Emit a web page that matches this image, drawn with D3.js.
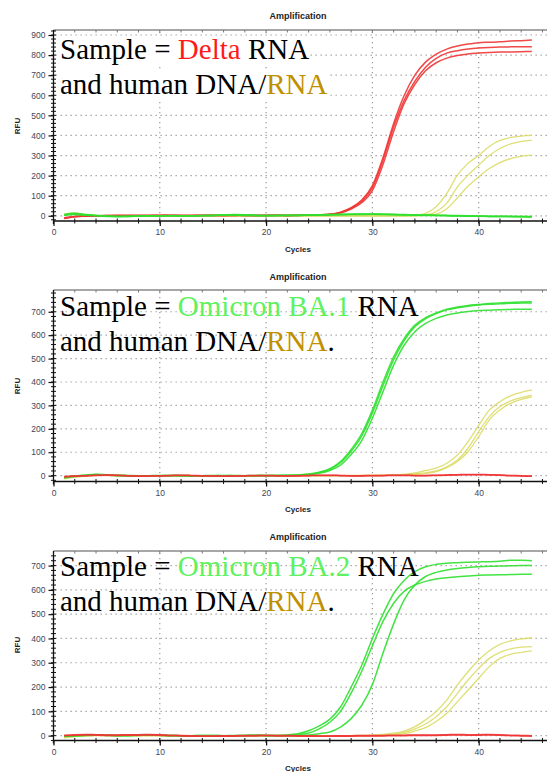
<!DOCTYPE html>
<html><head><meta charset="utf-8">
<script src="https://cdn.jsdelivr.net/npm/d3@7"></script>
<style>body{margin:0;background:#fff}svg{display:block}</style>
</head><body>
<svg id="c" width="547" height="772"></svg>
<script>
// ---------- DATA ----------
const cycles = [1,2,3,4,5,6,7,8,9,10,11,12,13,14,15,16,17,18,19,20,21,22,23,24,25,26,27,28,29,30,31,32,33,34,35,36,37,38,39,40,41,42,43,44,45];
const xTicks = [0,10,20,30,40];
const yTicks1 = [0,100,200,300,400,500,600,700,800,900];
const yTicks2 = [0,100,200,300,400,500,600,700];
const yTicks3 = [0,100,200,300,400,500,600,700];

// Panel 1: Delta
const p1Red1 = [-12,-4,-2,0,1,2,2,1,2,3,2,1,2,3,2,2,3,2,2,3,3,2,3,4,5,8,18,40,78,150,290,460,600,700,765,805,830,845,855,862,864,866,870,872,875];
const p1Red2 = [-10,-3,-1,0,1,1,2,2,1,2,3,2,1,2,3,2,2,3,2,2,3,2,3,3,5,7,16,38,72,140,277,443,576,670,740,784,810,822,830,835,838,840,841,842,842];
const p1Red3 = [-14,-5,-2,-1,0,1,1,2,1,1,2,2,1,1,2,2,1,2,2,1,2,2,2,3,4,6,14,34,65,125,255,420,560,655,722,762,785,798,806,810,813,815,816,817,818];
const p1Yel1 = [8,14,6,2,0,-1,-1,0,0,-1,0,0,-1,0,0,0,-1,0,0,0,0,0,0,0,0,0,0,0,0,0,0,0,0,3,12,45,111,202,261,300,345,375,390,397,400];
const p1Yel2 = [6,12,5,1,0,-1,0,0,-1,0,0,0,0,-1,0,0,0,0,-1,0,0,0,0,0,0,0,0,0,0,0,0,0,0,0,4,20,63,144,203,252,300,335,358,370,377];
const p1Yel3 = [5,10,4,1,0,0,-1,0,0,0,-1,0,0,0,0,-1,0,0,0,0,0,0,0,0,0,0,0,0,0,0,0,0,0,0,2,8,35,90,148,194,235,265,285,296,302];
const p1Grn1 = [4,9,5,1,-2,-4,-3,-1,0,0,1,0,-1,0,1,3,5,4,2,1,1,2,2,3,4,5,6,7,8,8,7,6,5,4,3,2,1,0,-1,-2,-3,-3,-4,-4,-5];
const p1Grn2 = [2,6,3,0,-3,-4,-2,-1,-1,0,0,-1,-1,1,2,3,3,2,1,0,1,1,2,3,3,4,5,6,6,7,6,5,4,3,2,1,0,-1,-2,-2,-3,-4,-4,-5,-6];
const p1Grn3 = [6,12,6,2,-1,-3,-3,-2,-1,-1,0,0,0,1,2,4,6,5,3,2,2,3,3,4,5,6,7,8,9,9,8,7,6,5,4,3,2,1,0,-1,-2,-2,-3,-3,-4];

// Panel 2: Omicron BA.1
const p2Grn1 = [-8,-2,2,5,3,1,0,-1,0,1,1,0,-1,0,0,1,0,-1,0,1,1,2,3,7,15,30,60,112,180,280,400,508,586,643,675,695,711,720,727,731,735,738,740,742,743];
const p2Grn2 = [-6,-1,3,6,4,2,1,0,0,0,1,1,0,-1,0,0,1,0,0,1,1,1,2,6,13,27,55,104,170,268,385,495,578,636,670,692,708,717,724,729,732,734,736,737,738];
const p2Grn3 = [-10,-4,0,4,2,0,-1,-1,0,0,0,-1,-1,0,1,0,0,0,1,0,1,1,2,4,10,22,45,90,150,245,359,472,558,615,650,672,686,695,701,705,707,709,710,711,711];
const p2Yel1 = [-10,-4,0,3,2,1,0,0,0,0,0,0,0,0,0,0,0,0,0,0,0,0,0,0,0,0,0,1,1,1,2,3,6,12,22,32,53,88,145,215,280,316,341,356,366];
const p2Yel2 = [-12,-5,-1,2,1,0,0,0,0,0,0,0,0,0,0,0,0,0,0,0,0,0,0,0,0,0,0,0,1,1,1,2,4,8,12,20,38,67,117,188,252,295,319,333,344];
const p2Yel3 = [-14,-6,-2,1,1,0,0,0,0,0,0,0,0,0,0,0,0,0,0,0,0,0,0,0,0,0,0,0,0,0,1,1,3,6,9,17,34,60,102,167,238,280,309,326,337];
const p2Red1 = [-4,-2,0,2,3,2,0,-2,-1,0,1,2,1,0,-1,-2,-1,0,1,1,0,-1,0,1,2,2,1,0,0,1,1,2,2,1,1,2,3,4,5,5,4,3,1,0,-2];
const p2Red2 = [-6,-3,-1,1,2,1,-1,-3,-2,-1,0,1,0,-1,-2,-3,-2,-1,0,0,-1,-2,-1,0,1,1,0,-1,-1,0,0,1,1,0,0,1,2,3,4,4,3,2,0,-1,-3];

// Panel 3: Omicron BA.2
const p3Grn1 = [-3,0,2,3,2,1,1,2,3,2,1,0,0,1,1,0,0,1,2,1,1,3,8,20,40,68,118,200,290,400,500,585,640,675,695,705,710,712,714,715,716,718,722,722,720];
const p3Grn2 = [-2,1,3,3,2,1,1,2,2,2,1,0,0,1,1,0,1,1,2,1,1,2,5,11,28,55,100,175,265,370,470,545,595,620,635,645,650,654,657,660,661,662,663,664,664];
const p3Grn3 = [-4,-1,1,2,1,0,0,1,2,1,0,-1,-1,0,0,-1,0,0,1,0,0,0,1,3,8,15,35,70,125,210,340,460,560,620,655,672,682,688,692,695,697,698,699,700,700];
const p3Yel1 = [-6,-2,0,1,1,0,0,0,0,0,0,0,0,0,0,0,0,0,0,0,0,0,0,0,0,0,0,0,1,2,5,10,19,37,65,99,147,209,263,311,349,376,390,398,403];
const p3Yel2 = [-8,-3,-1,1,0,0,0,0,0,0,0,0,0,0,0,0,0,0,0,0,0,0,0,0,0,0,0,0,0,1,3,6,13,28,48,78,119,174,229,277,318,343,357,364,366];
const p3Yel3 = [-9,-4,-1,0,0,0,0,0,0,0,0,0,0,0,0,0,0,0,0,0,0,0,0,0,0,0,0,0,0,0,1,3,8,19,33,58,92,140,188,236,284,318,335,343,349];
const p3Red1 = [2,4,5,4,3,3,4,4,5,4,2,1,0,-1,-1,0,0,1,1,2,1,1,0,0,-1,-1,0,0,1,1,1,2,2,3,3,3,4,5,4,4,5,4,2,1,0];
const p3Red2 = [0,2,3,2,1,1,2,2,3,2,0,-1,-2,-3,-3,-2,-2,-1,-1,0,-1,-1,-2,-2,-3,-3,-2,-2,-1,-1,-1,0,0,1,1,1,2,3,2,2,3,2,0,-1,-2];

// ---------- STYLE / LAYOUT ----------
const COL = {red:"#f03434", green:"#2fe02f", yellow:"#dcdc66"};
const panels = [
  {top:30, bottom:221, yMin:-26, yMax:925, yTicks:yTicks1, titleY:19, cyclesY:252, rfuY:126, textBg:true,
   lines:[{y:59, segs:[["Sample = ","#000"],["Delta","#ff1a1a"],[" RNA","#000"]]},
          {y:94, segs:[["and human DNA/","#000"],["RNA","#bf9000"]]}],
   series:[[p1Yel1,"yellow"],[p1Yel2,"yellow"],[p1Yel3,"yellow"],[p1Red1,"red"],[p1Red2,"red"],[p1Red3,"red"],[p1Grn1,"green"],[p1Grn2,"green"],[p1Grn3,"green"]]},
  {top:290, bottom:481.5, yMin:-25, yMax:793, yTicks:yTicks2, titleY:280, cyclesY:512, rfuY:386, textBg:false,
   lines:[{y:316, segs:[["Sample = ","#000"],["Omicron BA.1","#5ef25e"],[" RNA","#000"]]},
          {y:351, segs:[["and human DNA/","#000"],["RNA","#bf9000"],[".","#000"]]}],
   series:[[p2Yel1,"yellow"],[p2Yel2,"yellow"],[p2Yel3,"yellow"],[p2Grn1,"green"],[p2Grn2,"green"],[p2Grn3,"green"],[p2Red1,"red"],[p2Red2,"red"]]},
  {top:551, bottom:740.5, yMin:-20, yMax:760, yTicks:yTicks3, titleY:540, cyclesY:771, rfuY:645, textBg:false,
   lines:[{y:576, segs:[["Sample = ","#000"],["Omicron BA.2","#5ef25e"],[" RNA","#000"]]},
          {y:611, segs:[["and human DNA/","#000"],["RNA","#bf9000"],[".","#000"]]}],
   series:[[p3Yel1,"yellow"],[p3Yel2,"yellow"],[p3Yel3,"yellow"],[p3Grn1,"green"],[p3Grn2,"green"],[p3Grn3,"green"],[p3Red1,"red"],[p3Red2,"red"]]}
];

const svg = d3.select("#c");
const x = d3.scaleLinear().domain([0,47]).range([53.5,553.1]);
const sans = "'Liberation Sans', Arial, sans-serif";

panels.forEach(p => {
  const y = d3.scaleLinear().domain([p.yMin,p.yMax]).range([p.bottom,p.top]);
  const g = svg.append("g");
  const x0 = x(0), x1 = 547;

  // title
  g.append("text").attr("x",298).attr("y",p.titleY).attr("text-anchor","middle")
    .attr("font-family",sans).attr("font-weight","bold").attr("font-size",9).attr("fill","#222").text("Amplification");

  // gridlines
  g.selectAll(".hg").data(p.yTicks).join("line")
    .attr("x1",x0+2).attr("x2",x1).attr("y1",d=>y(d)).attr("y2",d=>y(d))
    .attr("stroke","#9a9a9a").attr("stroke-width",1.2).attr("stroke-dasharray","1.3,3.7");
  g.selectAll(".vg").data(xTicks.filter(d=>d>0)).join("line")
    .attr("x1",d=>x(d)).attr("x2",d=>x(d)).attr("y1",p.top+2).attr("y2",p.bottom)
    .attr("stroke","#9a9a9a").attr("stroke-width",1.2).attr("stroke-dasharray","1.3,3.7");

  // top border
  g.append("line").attr("x1",x0).attr("x2",x1).attr("y1",p.top).attr("y2",p.top)
    .attr("stroke","#8a8a8a").attr("stroke-width",1.5);
  g.selectAll(".tt").data(d3.range(0,48,2)).join("line")
    .attr("x1",d=>x(d)).attr("x2",d=>x(d)).attr("y1",p.top).attr("y2",p.top+2.5)
    .attr("stroke","#777").attr("stroke-width",1);

  // curves
  const line = d3.line().x((d,i)=>x(cycles[i])).y(d=>y(d)).curve(d3.curveMonotoneX);
  p.series.forEach(([vals,c]) => {
    g.append("path").attr("d",line(vals)).attr("fill","none")
      .attr("stroke",COL[c]).attr("stroke-width",c==="yellow"?1.3:1.5).attr("stroke-opacity",0.9);
  });

  // y axis
  const yAx = d3.axisLeft(y).tickValues(p.yTicks).tickSize(5).tickPadding(3).tickFormat(d3.format("d"));
  const ya = g.append("g").attr("transform",`translate(${x0},0)`).call(yAx);
  ya.select(".domain").attr("stroke","#111").attr("stroke-width",1.3).attr("d",`M0,${p.top}V${p.bottom+3}`);
  ya.selectAll(".tick line").attr("stroke","#111").attr("stroke-width",1.2);
  ya.selectAll(".tick text").attr("font-family",sans).attr("font-size",8.5).attr("fill","#454555");
  g.selectAll(".ym").data(d3.range(-20,p.yMax,20)).join("line")
    .attr("x1",x0-2.5).attr("x2",x0+2.5).attr("y1",d=>y(d)).attr("y2",d=>y(d))
    .attr("stroke","#111").attr("stroke-width",1);

  // x axis
  const xAx = d3.axisBottom(x).tickValues(xTicks).tickSize(5).tickPadding(3).tickFormat(d3.format("d"));
  const xa = g.append("g").attr("transform",`translate(0,${p.bottom})`).call(xAx);
  xa.select(".domain").attr("stroke","#111").attr("stroke-width",1.3).attr("d",`M${x0},0H${x1}`);
  xa.selectAll(".tick line").attr("stroke","#111").attr("stroke-width",1.2);
  xa.selectAll(".tick text").attr("font-family",sans).attr("font-size",8.5).attr("fill","#454555");
  g.selectAll(".xm").data(d3.range(2,48,2)).join("line")
    .attr("x1",d=>x(d)).attr("x2",d=>x(d)).attr("y1",p.bottom-2.5).attr("y2",p.bottom+2.5)
    .attr("stroke","#111").attr("stroke-width",1);

  // axis titles
  g.append("text").attr("x",298).attr("y",p.cyclesY).attr("text-anchor","middle")
    .attr("font-family",sans).attr("font-weight","bold").attr("font-size",8).attr("fill","#222").text("Cycles");
  g.append("text").attr("transform",`translate(20,${p.rfuY}) rotate(-90)`).attr("text-anchor","middle")
    .attr("font-family",sans).attr("font-weight","bold").attr("font-size",8).attr("fill","#222").text("RFU");

  // overlay text
  p.lines.forEach(l => {
    const t = g.append("text").attr("x",60).attr("y",l.y)
      .attr("font-family","'Liberation Serif','Times New Roman',serif").attr("font-size",29)
      .style("white-space","pre");
    l.segs.forEach(([s,c]) => t.append("tspan").attr("fill",c).text(s));
    if (p.textBg) {
      const b = t.node().getBBox();
      g.insert("rect", () => t.node()).attr("x",b.x-2).attr("y",b.y+3).attr("width",b.width+3).attr("height",b.height-4).attr("fill","#fff");
    }
  });
});
</script>
</body></html>
